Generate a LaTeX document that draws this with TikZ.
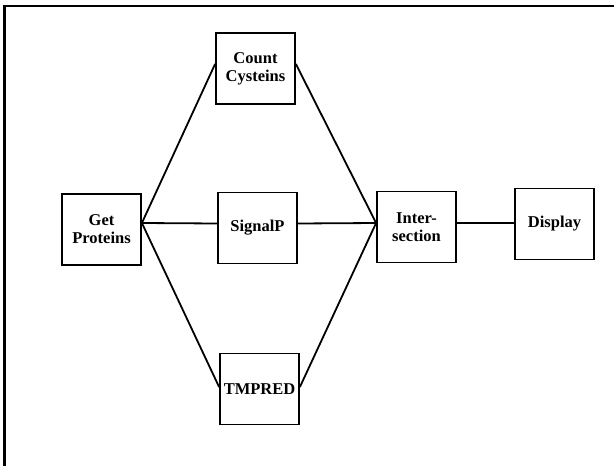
\documentclass[tikz,border=0pt]{standalone}
\usepackage{fontspec}
\setmainfont{Liberation Serif}

\begin{document}
\begin{tikzpicture}[yscale=-1
,pstyle0/.style={draw=black,fill=white,line width=1.8pt,minimum width=79pt,minimum height=71pt,inner sep=0pt,align=center,font=\fontsize{16.5pt}{18pt}\selectfont\bfseries}
,pstyle1/.style={color=black,line width=1.8pt}
,pstyle2/.style={color=black,line width=2.8pt}
]
\useasboundingbox (0pt,0pt) rectangle (614pt,466pt);
\draw[pstyle2] (4.7pt,466pt) -- (4.7pt,6pt) -- (614pt,6pt);
\node[pstyle0] (get) at (101.5pt,229.5pt) {Get\\Proteins};
\node[pstyle0] (count) at (255.5pt,68.5pt) {Count\\Cysteins};
\node[pstyle0] (signal) at (257.5pt,228pt) {SignalP};
\node[pstyle0] (tmpred) at (259.5pt,389pt) {TMPRED};
\node[pstyle0] (inter) at (416.5pt,227pt) {Inter-\\section};
\node[pstyle0] (display) at (554.5pt,224pt) {Display};
\draw[pstyle1] ([yshift=-6.5pt]get.east) -- ([yshift=-4.5pt]count.west);
\draw[pstyle1] ([yshift=-6.5pt]get.east) -- ([yshift=-4.5pt]signal.west);
\draw[pstyle1] ([yshift=-6.5pt]get.east) -- ([yshift=-2pt]tmpred.west);
\draw[pstyle1] ([yshift=-4.5pt]count.east) -- ([yshift=-4pt]inter.west);
\draw[pstyle1] ([yshift=-4.5pt]signal.east) -- ([yshift=-4pt]inter.west);
\draw[pstyle1] ([yshift=-2pt]tmpred.east) -- ([yshift=-4pt]inter.west);
\draw[pstyle1] ([yshift=-4pt]inter.east) -- ([yshift=-1pt]display.west);
\end{tikzpicture}
\end{document}
